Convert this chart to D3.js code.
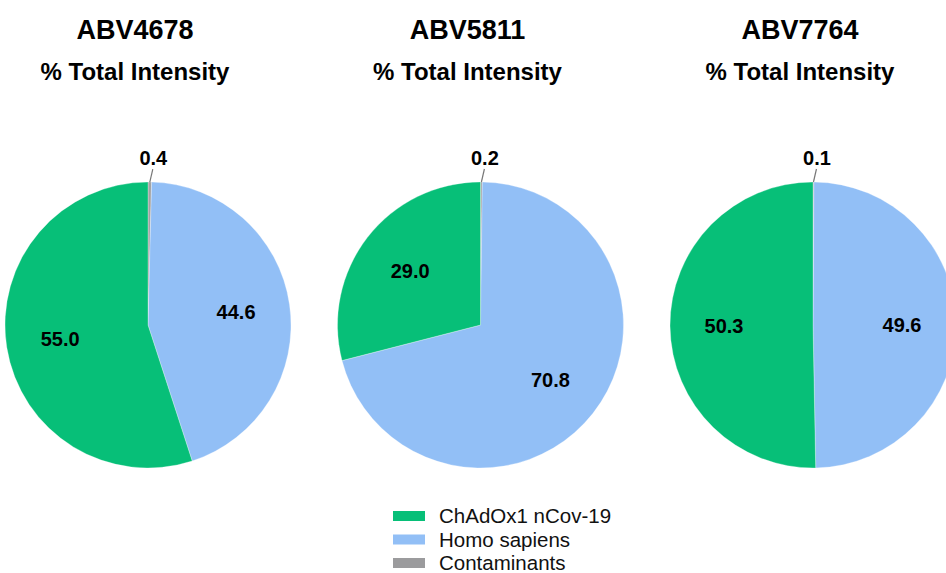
<!DOCTYPE html>
<html>
<head>
<meta charset="utf-8">
<script src="https://cdn.jsdelivr.net/npm/d3@7"></script>
<style>
  html, body { margin: 0; padding: 0; background: #fff; }
  svg { display: block; font-family: "Liberation Sans", Arial, sans-serif; }
</style>
</head>
<body>
<svg id="chart" width="946" height="573"></svg>
<script>
// Samples and their intensity shares (%)
const samples = ["ABV4678", "ABV5811", "ABV7764"];
const chadox = [55.0, 29.0, 50.3];
const homo = [44.6, 70.8, 49.6];
const contaminants = [0.4, 0.2, 0.1];

const seriesNames = ["ChAdOx1 nCov-19", "Homo sapiens", "Contaminants"];
const seriesColors = ["#07bf78", "#92bff6", "#a3a3a3"];
const subtitle = "% Total Intensity";

const W = 946, H = 573;
const svg = d3.select("#chart");

const R = 143;
const cy = 325;
const centerX = d3.scalePoint().domain(samples).range([148, 813]);
const color = d3.scaleOrdinal().domain(seriesNames).range(seriesColors);

// slices go clockwise from 12 o'clock: contaminants, human, vector
const sliceOrder = ["Contaminants", "Homo sapiens", "ChAdOx1 nCov-19"];
const pie = d3.pie().sort(null).value(d => d.value).startAngle(0).endAngle(2 * Math.PI);
const arc = d3.arc().innerRadius(0).outerRadius(R);
const labelArc = d3.arc().innerRadius(89).outerRadius(89);

samples.forEach((s, i) => {
  const values = {
    "ChAdOx1 nCov-19": chadox[i],
    "Homo sapiens": homo[i],
    "Contaminants": contaminants[i]
  };
  const data = sliceOrder.map(k => ({ key: k, value: values[k] }));
  const cx = centerX(s);

  // headings
  svg.append("text")
    .attr("x", cx - 13).attr("y", 39)
    .attr("text-anchor", "middle")
    .attr("font-size", 27).attr("font-weight", "bold")
    .attr("fill", "#000")
    .text(s);
  svg.append("text")
    .attr("x", cx - 13).attr("y", 80)
    .attr("text-anchor", "middle")
    .attr("font-size", 24).attr("font-weight", "bold")
    .attr("fill", "#000")
    .text(subtitle);

  const g = svg.append("g").attr("transform", `translate(${cx},${cy})`);
  const arcs = pie(data);

  g.selectAll("path")
    .data(arcs)
    .join("path")
    .attr("d", arc)
    .attr("fill", d => color(d.data.key))
    .attr("stroke", "#fff")
    .attr("stroke-width", 0.3);

  arcs.forEach(a => {
    if (a.data.key === "Contaminants") {
      // tiny slice: label outside with a leader line
      const mid = (a.startAngle + a.endAngle) / 2;
      const x0 = R * Math.sin(mid), y0 = -R * Math.cos(mid);
      const x1 = x0 + 3, y1 = y0 - 13;
      g.append("line")
        .attr("x1", x0).attr("y1", y0)
        .attr("x2", x1).attr("y2", y1)
        .attr("stroke", "#777").attr("stroke-width", 1.2);
      g.append("text")
        .attr("x", x1 + 0.5).attr("y", y1 - 4)
        .attr("text-anchor", "middle")
        .attr("font-size", 20).attr("font-weight", "bold")
        .attr("fill", "#000")
        .text(a.data.value.toFixed(1));
    } else {
      const [lx, ly] = labelArc.centroid(a);
      g.append("text")
        .attr("x", lx).attr("y", ly)
        .attr("dy", "0.36em")
        .attr("text-anchor", "middle")
        .attr("font-size", 20).attr("font-weight", "bold")
        .attr("fill", "#000")
        .text(a.data.value.toFixed(1));
    }
  });
});

// legend
const legend = svg.append("g").attr("transform", "translate(393,516)");
const rowStep = d3.scaleLinear().domain([0, 1]).range([0, 23.5]);
seriesNames.forEach((name, i) => {
  const row = legend.append("g").attr("transform", `translate(0,${rowStep(i)})`);
  row.append("rect")
    .attr("x", 0).attr("y", -5)
    .attr("width", 32).attr("height", 10)
    .attr("fill", i === 2 ? "#9b9b9d" : color(name));
  row.append("text")
    .attr("x", 46).attr("y", 0)
    .attr("dy", "0.35em")
    .attr("font-size", 20.5)
    .attr("fill", "#111")
    .text(name);
});
</script>
</body>
</html>
